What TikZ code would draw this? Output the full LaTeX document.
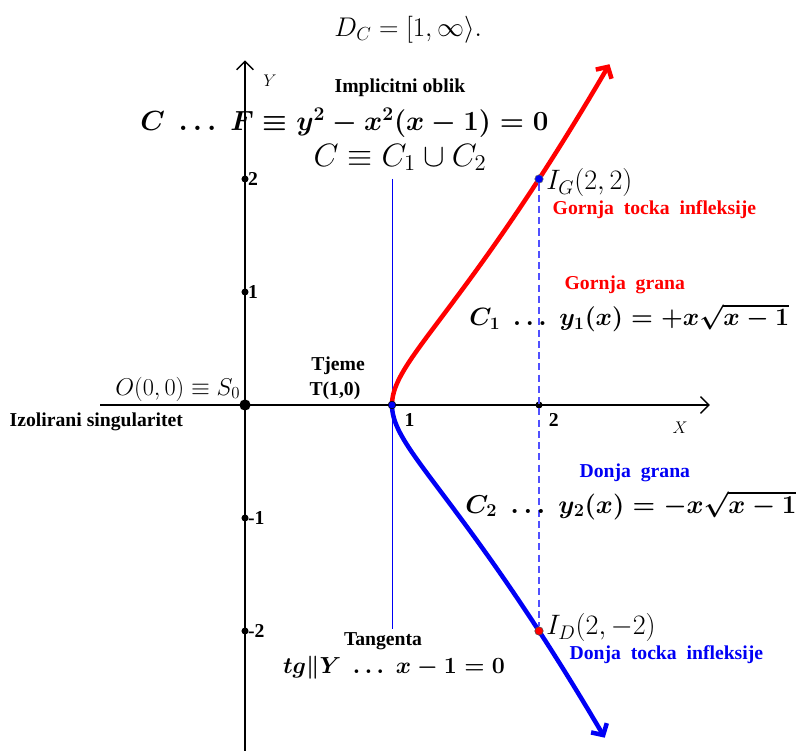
\RequirePackage{fix-cm}
\documentclass[tikz,border=0pt]{standalone}
\usepackage{amsmath,amssymb}
\usepackage{fontspec}
\setmainfont{Liberation Serif}
\usepackage{tikz}
\usetikzlibrary{arrows.meta}
\definecolor{granaG}{RGB}{255,0,0}
\definecolor{granaD}{RGB}{0,0,245}
\definecolor{crtkano}{RGB}{80,80,255}
\newcommand{\bfeqsize}[1]{\fontsize{#1}{24}\selectfont\mathversion{bold}}
\tikzset{
  lbl/.style={font=\bfseries\fontsize{14}{16}\selectfont,inner sep=1pt},
  eqn/.style={font=\fontsize{#1}{24}\selectfont,inner sep=0pt},
  beqn/.style={font=\bfeqsize{#1},inner sep=0pt},
  tck/.style={circle,fill,inner sep=0pt,minimum size=5pt},
  axis/.style={line width=0.9pt,-{Straight Barb[length=6pt,width=12pt,line width=1pt]}},
  grana/.style={line width=3.2pt,line cap=round,-{Straight Barb[length=6pt,width=13pt]}}
}
\begin{document}
\begin{tikzpicture}[x=3.675cm,y=2.825cm]
\useasboundingbox (-1.6667,-3.0619) rectangle (3.7823,3.5841);
% axes
\coordinate (xmin) at (-0.986,0);
\coordinate (xmax) at (3.163,0);
\coordinate (ymin) at (0,-3.08);
\coordinate (ymax) at (0,3.05);
\draw[axis] (xmin) -- (xmax);
\draw[axis] (ymin) -- (ymax);
\node[eqn=12] (Ylbl) at (0.17,2.87) {$Y$};
\node[eqn=12] (Xlbl) at (2.96,-0.2) {$X$};
% tangent and inflection line
\coordinate (tgtop) at (1,2);
\coordinate (tgbot) at (1,-1.98);
\draw[granaD,line width=0.7pt] (tgtop) -- (tgbot);
% branches
\draw[granaG,grana] plot[domain=0:1.217,samples=80,variable=\t] ({1+\t*\t},{(1+\t*\t)*\t});
\draw[granaD,grana] plot[domain=0:-1.204,samples=80,variable=\t] ({1+\t*\t},{(1+\t*\t)*\t});
% ticks
\foreach \v/\l in {2/2,1/1,-1/-1,-2/-2}
  \node[tck] (y\l) at (0,\v) {} node[lbl,right=1pt] at (0,\v) {\l};
\node[tck] (x2) at (2,0) {};
\node[lbl] (x2lbl) at (2.10,-0.13) {2};
\node[tck,minimum size=8pt] (O) at (0,0) {};
\node[circle,draw=black,fill=granaD,inner sep=0pt,minimum size=5.5pt] (T) at (1,0) {};
\node[lbl] (x1lbl) at (1.12,-0.13) {1};
\node[circle,draw=black!60,fill=granaD,inner sep=0pt,minimum size=6pt] (IG) at (2,2) {};
\node[circle,draw=black!70,fill=granaG,inner sep=0pt,minimum size=6pt] (ID) at (2,-2) {};
\draw[crtkano,dash pattern=on 5pt off 3pt,line width=0.8pt] (IG) -- (ID);
% texts
\node[eqn=19.2] (DC) at (1.11,3.32) {$D_C = [1,\infty\rangle.$};
\node[lbl] (impl) at (1.054,2.805) {Implicitni oblik};
\node[beqn=19.7,anchor=west] (Feq) at (-0.714,2.50) {$C \;\ldots\; F \equiv y^2 - x^2(x-1) = 0$};
\node[eqn=23] (Cun) at (1.054,2.19) {$C \equiv C_1 \cup C_2$};
\node[eqn=20,anchor=west] (IGlbl) at (2.048,1.965) {$I_G(2,2)$};
\node[lbl,granaG,anchor=west] (IGtxt) at (2.082,1.726) {Gornja\ \ tocka\ \ infleksije};
\node[lbl,granaG,anchor=west] (Gg) at (2.163,1.062) {Gornja\ \ grana};
\node[beqn=17.8,anchor=west] (C1eq) at (1.524,0.77) {$C_1 \;\ldots\; y_1(x) = +x\sqrt{x-1}$};
\node[lbl] (tj) at (0.633,0.345) {Tjeme};
\node[lbl] (tjT) at (0.612,0.124) {T(1,0)};
\node[eqn=17.28,anchor=east] (Os) at (-0.03,0.142) {$O(0,0)\equiv S_0$};
\node[lbl,anchor=west] (iz) at (-1.612,-0.15) {Izolirani singularitet};
\node[lbl,granaD,anchor=west] (Dg) at (2.265,-0.602) {Donja\ \ grana};
\node[beqn=18.4,anchor=west] (C2eq) at (1.497,-0.885) {$C_2 \;\ldots\; y_2(x) = -x\sqrt{x-1}$};
\node[eqn=20,anchor=west] (IDlbl) at (2.048,-1.973) {$I_D(2,-2)$};
\node[lbl,granaD,anchor=west] (IDtxt) at (2.197,-2.212) {Donja\ \ tocka\ \ infleksije};
\node[lbl] (tang) at (0.939,-2.088) {Tangenta};
\node[beqn=16.5] (tgeq) at (1.014,-2.327) {$tg\|Y \;\ldots\; x-1=0$};
\end{tikzpicture}
\end{document}
